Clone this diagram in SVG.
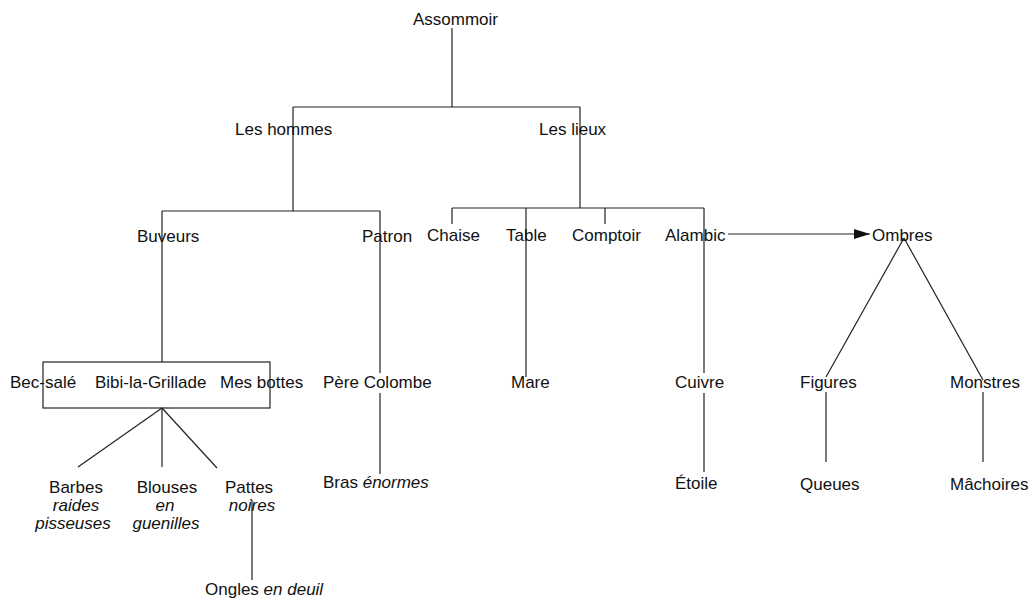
<svg xmlns="http://www.w3.org/2000/svg" width="1031" height="600" viewBox="0 0 1031 600">
<defs>
<style>
text{font-family:"Liberation Sans",Arial,sans-serif;font-size:17px;fill:#111}
.i{font-style:italic}
.m{text-anchor:middle}
.c line,.c polyline,.c rect{stroke:#222;stroke-width:1.2;fill:none}
</style>
<marker id="ah" viewBox="0 0 16 10" refX="16" refY="5" markerWidth="16" markerHeight="10" markerUnits="userSpaceOnUse" orient="auto">
<path d="M0,0 L16,5 L0,10 Z" fill="#111"/>
</marker>
</defs>
<rect width="1031" height="600" fill="#fff"/>
<g class="c" id="connectors">
<line x1="452" y1="28" x2="452" y2="107"/>
<line x1="293" y1="107" x2="580" y2="107"/>
<line x1="293" y1="107" x2="293" y2="211"/>
<line x1="580" y1="107" x2="580" y2="208"/>
<line x1="162" y1="211" x2="380" y2="211"/>
<line x1="162" y1="211" x2="162" y2="362"/>
<line x1="380" y1="211" x2="380" y2="373"/>
<line x1="380" y1="393" x2="380" y2="474"/>
<line x1="452" y1="208" x2="704" y2="208"/>
<line x1="452" y1="208" x2="452" y2="224"/>
<line x1="526" y1="208" x2="526" y2="377"/>
<line x1="605" y1="208" x2="605" y2="224"/>
<line x1="704" y1="208" x2="704" y2="373"/>
<line x1="704" y1="393" x2="704" y2="472"/>
<rect x="43" y="362" width="227" height="46"/>
<line x1="162" y1="408" x2="78" y2="467"/>
<line x1="162" y1="408" x2="162" y2="467"/>
<line x1="162" y1="408" x2="217" y2="468"/>
<line x1="252" y1="500" x2="252" y2="580"/>
<line x1="728" y1="234" x2="870" y2="234" marker-end="url(#ah)"/>
<line x1="904" y1="238" x2="826" y2="377"/>
<line x1="904" y1="238" x2="983" y2="380"/>
<line x1="826" y1="392" x2="826" y2="462"/>
<line x1="983" y1="392" x2="983" y2="462"/>
</g>
<g id="assommoir"><text x="413" y="25">Assommoir</text></g>
<g id="les-hommes"><text x="235" y="135">Les hommes</text></g>
<g id="les-lieux"><text x="539" y="135">Les lieux</text></g>
<g id="buveurs"><text x="137" y="242">Buveurs</text></g>
<g id="patron"><text x="362" y="242">Patron</text></g>
<g id="chaise"><text x="427" y="241">Chaise</text></g>
<g id="table"><text x="506" y="241">Table</text></g>
<g id="comptoir"><text x="572" y="241">Comptoir</text></g>
<g id="alambic"><text x="665" y="241">Alambic</text></g>
<g id="ombres"><text x="872" y="241">Ombres</text></g>
<g id="bec-sale"><text x="10" y="388">Bec-salé</text></g>
<g id="bibi"><text x="95" y="388">Bibi-la-Grillade</text></g>
<g id="mes-bottes"><text x="220" y="388">Mes bottes</text></g>
<g id="pere-colombe"><text x="323" y="388">Père Colombe</text></g>
<g id="mare"><text x="511" y="388">Mare</text></g>
<g id="cuivre"><text x="675" y="388">Cuivre</text></g>
<g id="figures"><text x="800" y="388">Figures</text></g>
<g id="monstres"><text x="950" y="388">Monstres</text></g>
<g id="barbes"><text class="m" x="76" y="493">Barbes</text><text class="m i" x="76" y="511">raides</text><text class="m i" x="73" y="529">pisseuses</text></g>
<g id="blouses"><text class="m" x="167" y="493">Blouses</text><text class="m i" x="165" y="511">en</text><text class="m i" x="166" y="529">guenilles</text></g>
<g id="pattes"><text class="m" x="249" y="493">Pattes</text><text class="m i" x="252" y="511">noires</text></g>
<g id="ongles"><text x="205" y="595">Ongles <tspan class="i">en deuil</tspan></text></g>
<g id="bras"><text x="323" y="488">Bras <tspan class="i">énormes</tspan></text></g>
<g id="etoile"><text x="675" y="489">Étoile</text></g>
<g id="queues"><text x="800" y="490">Queues</text></g>
<g id="machoires"><text x="950" y="490">Mâchoires</text></g>
</svg>
